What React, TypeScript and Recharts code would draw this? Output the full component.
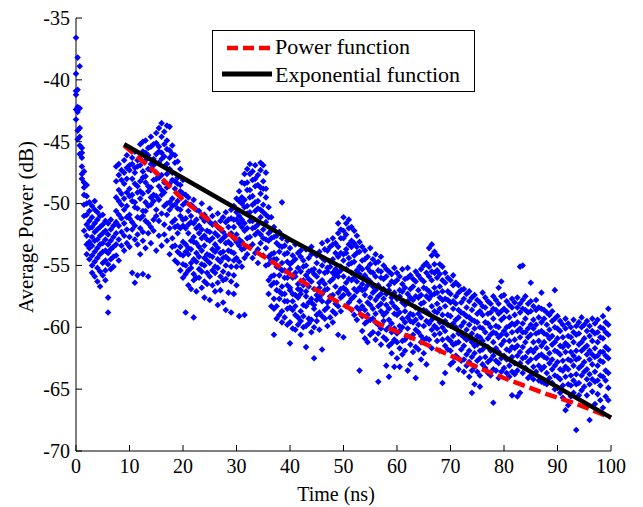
import { ComposedChart, Scatter, Line, XAxis, YAxis, Legend, Label } from 'recharts'

// measured samples: [time (ns), power values (dB) read at that time]
const samples00to10: [number, number[]][] = [
  [0.0, [-36.6, -39.5, -40.9, -41.2, -42.4, -43.2]],
  [0.3, [-38.2, -40.8, -42.2, -42.6, -44.1, -44.8]],
  [0.7, [-38.9, -42.3, -43.9, -44.6, -45.3, -46.0]],
  [1.1, [-45.5, -45.9, -46.3, -47.0, -47.6, -48.0]],
  [1.5, [-47.4, -48.3, -48.7, -49.3, -50.1, -51.0, -52.2]],
  [2.0, [-48.5, -49.4, -50.0, -50.9, -51.7, -52.6, -53.3, -54.1]],
  [2.5, [-49.9, -50.6, -51.4, -52.0, -53.1, -53.6, -54.5]],
  [3.0, [-50.2, -51.1, -51.9, -52.7, -53.4, -54.2, -55.0, -55.6]],
  [3.5, [-49.8, -50.5, -51.6, -52.3, -53.0, -53.9, -54.7, -55.9]],
  [4.0, [-50.7, -51.3, -52.1, -52.9, -53.6, -54.4, -55.2, -56.3]],
  [4.5, [-50.3, -51.0, -51.9, -52.6, -53.3, -54.1, -55.5, -56.7]],
  [5.0, [-50.9, -51.7, -52.4, -53.2, -53.9, -54.8, -55.8]],
  [5.5, [-51.4, -52.2, -52.9, -53.8, -54.6, -55.4, -56.2]],
  [6.0, [-51.6, -52.5, -53.3, -54.0, -54.9, -57.6, -58.8]],
  [6.5, [-51.3, -52.1, -53.0, -53.7, -54.5, -55.3]],
  [7.0, [-51.8, -52.7, -53.5, -54.3, -55.1]],
  [7.5, [-47.0, -48.2, -49.5, -50.6, -51.5, -52.4, -53.3, -54.2]],
  [8.0, [-46.8, -47.7, -48.9, -49.8, -50.9, -51.8, -52.9, -54.6]],
  [8.5, [-47.3, -48.1, -49.2, -50.1, -51.2, -52.3, -53.4]],
  [9.0, [-46.5, -47.5, -48.4, -49.6, -50.5, -51.6, -52.6, -53.8]],
  [9.5, [-46.1, -47.1, -48.0, -49.1, -50.2, -51.1, -52.1, -53.2]],
]

const samples10to20: [number, number[]][] = [
  [10.0, [-45.6, -46.9, -47.3, -48.8, -49.4, -50.9, -51.2, -52.7, -53.5]],
  [10.5, [-46.3, -46.8, -48.0, -49.3, -49.8, -51.5, -52.1, -55.6]],
  [11.0, [-45.8, -47.1, -47.5, -48.4, -49.9, -50.3, -51.8, -52.9, -56.4]],
  [11.5, [-46.5, -47.0, -48.6, -49.1, -50.4, -51.1, -52.5, -53.3, -55.8]],
  [12.0, [-45.2, -46.4, -46.9, -48.2, -49.0, -49.6, -51.2, -52.0, -54.1]],
  [12.5, [-45.0, -45.8, -47.4, -47.9, -49.2, -50.6, -51.0, -52.3, -53.0, -55.7]],
  [13.0, [-44.9, -45.9, -46.5, -47.8, -48.3, -49.9, -50.6, -51.4, -53.6]],
  [13.5, [-45.5, -46.1, -47.2, -48.6, -49.0, -50.2, -51.6, -52.4, -55.9]],
  [14.0, [-44.6, -45.4, -46.8, -47.3, -48.7, -49.5, -50.1, -51.9, -53.2]],
  [14.5, [-45.2, -46.4, -46.9, -48.1, -49.3, -49.8, -51.3, -52.2]],
  [15.0, [-44.3, -45.1, -46.0, -47.5, -48.0, -49.4, -50.5, -51.0, -53.8]],
  [15.5, [-43.9, -45.4, -45.8, -46.7, -47.9, -48.6, -49.7, -51.4, -52.6]],
  [16.0, [-43.5, -44.6, -45.9, -46.4, -47.7, -48.9, -49.3, -50.8, -53.4]],
  [16.5, [-44.2, -45.2, -46.2, -47.0, -48.3, -49.1, -50.2, -51.7, -52.5]],
  [17.0, [-43.7, -44.9, -45.6, -46.8, -47.6, -48.7, -50.0, -50.9, -53.0]],
  [17.5, [-43.8, -45.7, -46.3, -47.2, -48.4, -49.9, -50.5, -52.0, -54.1]],
  [18.0, [-45.3, -46.0, -47.5, -48.1, -49.6, -50.2, -51.5, -52.8, -53.5]],
  [18.5, [-46.1, -46.7, -48.2, -48.8, -50.1, -51.3, -51.9, -53.4, -54.6]],
  [19.0, [-46.6, -47.9, -48.4, -49.8, -50.4, -51.8, -52.4, -53.9, -54.8]],
  [19.5, [-47.2, -48.5, -49.0, -50.5, -51.0, -52.0, -53.5, -54.1, -55.4]],
]

const samples20to30: [number, number[]][] = [
  [20.0, [-48.1, -49.2, -50.1, -51.3, -51.8, -53.1, -54.2, -54.9, -56.0]],
  [20.5, [-49.3, -49.9, -51.2, -52.0, -53.3, -53.9, -55.0, -55.7, -58.8]],
  [21.0, [-49.5, -50.6, -51.7, -52.4, -53.6, -54.1, -55.4, -56.6]],
  [21.5, [-50.1, -51.0, -51.5, -53.0, -53.7, -54.8, -55.2, -56.9]],
  [22.0, [-49.7, -50.3, -51.6, -52.7, -53.1, -54.5, -55.7, -56.2, -59.2]],
  [22.5, [-50.5, -51.3, -52.0, -53.2, -54.0, -54.7, -56.0, -57.1]],
  [23.0, [-50.6, -51.8, -52.4, -53.5, -54.3, -55.3, -56.0]],
  [23.5, [-50.0, -51.1, -52.1, -52.8, -53.8, -54.9, -55.5, -56.8]],
  [24.0, [-50.9, -51.4, -52.6, -53.4, -54.4, -55.0, -56.3, -57.6]],
  [24.5, [-51.2, -52.2, -52.9, -54.1, -54.6, -55.6, -56.5]],
  [25.0, [-50.4, -51.5, -52.3, -53.0, -54.2, -54.8, -55.9, -57.8]],
  [25.5, [-51.0, -51.7, -52.8, -53.7, -54.3, -55.4, -56.6]],
  [26.0, [-51.6, -52.4, -53.3, -53.9, -55.1, -55.6, -57.1]],
  [26.5, [-50.8, -51.9, -52.6, -53.6, -54.5, -55.2, -56.4, -58.2]],
  [27.0, [-51.4, -52.1, -53.0, -54.0, -54.7, -55.9, -57.0]],
  [27.5, [-51.1, -52.3, -52.8, -53.9, -54.4, -55.5, -56.2, -58.0]],
  [28.0, [-50.7, -51.5, -52.6, -53.2, -54.3, -55.0, -56.1, -58.6]],
  [28.5, [-51.3, -51.9, -53.1, -53.8, -54.5, -55.7, -57.2]],
  [29.0, [-50.5, -51.2, -52.4, -53.3, -53.9, -55.1, -56.3, -58.8]],
  [29.5, [-50.2, -51.3, -51.9, -52.8, -54.0, -54.6, -55.8, -57.3]],
]

const samples30to40: [number, number[]][] = [
  [30.0, [-49.6, -50.7, -51.3, -52.5, -53.1, -54.4, -55.1, -56.6]],
  [30.5, [-49.0, -49.8, -51.0, -51.6, -52.9, -53.4, -54.7, -59.1]],
  [31.0, [-48.3, -49.5, -50.0, -51.3, -51.9, -53.1, -53.7, -55.1]],
  [31.5, [-47.6, -48.4, -49.7, -50.3, -51.6, -52.2, -53.6, -54.4, -59.0]],
  [32.0, [-47.2, -48.3, -48.9, -50.2, -50.8, -52.0, -52.8, -54.1]],
  [32.5, [-46.8, -47.6, -48.9, -49.5, -50.7, -51.4, -52.7, -53.5]],
  [33.0, [-47.4, -48.1, -49.4, -50.1, -51.4, -52.0, -53.3, -54.4]],
  [33.5, [-46.9, -48.0, -48.6, -49.9, -50.6, -51.9, -52.5, -54.0]],
  [34.0, [-47.7, -48.5, -49.8, -50.4, -51.7, -52.3, -53.7, -54.8]],
  [34.5, [-46.7, -47.3, -48.7, -49.2, -50.5, -51.1, -52.5, -53.2]],
  [35.0, [-46.9, -48.2, -48.8, -50.1, -50.7, -52.1, -52.8, -54.2]],
  [35.5, [-47.5, -48.8, -49.5, -50.9, -51.5, -52.9, -53.6, -55.0]],
  [36.0, [-50.3, -51.1, -52.4, -53.0, -54.3, -54.9, -56.2, -57.3]],
  [36.5, [-51.1, -52.2, -52.8, -54.1, -54.6, -55.9, -56.6, -58.3]],
  [37.0, [-51.9, -52.7, -54.0, -54.5, -55.8, -56.4, -57.7, -58.5, -60.6]],
  [37.5, [-52.6, -53.2, -54.5, -55.1, -56.4, -57.0, -58.3, -59.3]],
  [38.0, [-52.3, -53.4, -53.9, -55.2, -55.8, -57.1, -57.7, -59.0]],
  [38.5, [-49.9, -52.8, -53.5, -54.8, -55.4, -56.7, -57.3, -58.7, -59.6]],
  [39.0, [-53.4, -54.1, -55.4, -56.0, -57.3, -57.9, -59.2]],
  [39.5, [-53.0, -54.0, -54.7, -56.0, -56.6, -57.9, -58.5, -59.8]],
]

const samples40to50: [number, number[]][] = [
  [40.0, [-53.6, -54.9, -55.3, -56.8, -57.0, -58.4, -59.6, -61.3]],
  [40.5, [-54.2, -54.7, -56.0, -57.3, -57.9, -58.6, -60.1]],
  [41.0, [-53.3, -54.5, -55.6, -55.9, -57.4, -58.3, -59.0, -60.2]],
  [41.5, [-54.0, -55.2, -56.5, -56.9, -57.6, -59.2, -59.8]],
  [42.0, [-53.8, -54.3, -55.5, -57.0, -57.3, -58.7, -59.5, -60.6]],
  [42.5, [-54.6, -55.1, -56.2, -56.6, -58.2, -59.1, -60.0]],
  [43.0, [-53.7, -55.0, -55.8, -57.1, -57.5, -58.3, -59.9, -61.6]],
  [43.5, [-54.4, -55.5, -56.1, -56.7, -58.0, -59.3, -59.7]],
  [44.0, [-53.5, -54.1, -55.4, -56.3, -57.7, -58.0, -59.4, -60.4]],
  [44.5, [-54.0, -55.3, -55.7, -56.9, -58.2, -58.5, -60.0, -62.5]],
  [45.0, [-54.2, -54.8, -55.9, -57.4, -57.8, -59.0, -59.5]],
  [45.5, [-53.9, -55.5, -56.4, -56.8, -57.6, -58.8, -60.2]],
  [46.0, [-53.2, -54.4, -55.0, -56.2, -57.3, -57.9, -59.1, -61.8]],
  [46.5, [-53.7, -54.6, -55.6, -56.5, -57.0, -58.6, -59.3]],
  [47.0, [-53.0, -53.8, -55.2, -55.5, -56.9, -58.0, -58.4, -59.9]],
  [47.5, [-53.5, -54.7, -55.1, -56.3, -57.5, -57.8, -59.2]],
  [48.0, [-52.8, -53.3, -54.5, -55.6, -56.1, -57.4, -58.7, -59.6]],
  [48.5, [-53.2, -54.0, -55.3, -55.8, -56.7, -58.1, -58.9]],
  [49.0, [-51.6, -52.4, -53.5, -54.3, -55.6, -55.9, -57.2, -58.3, -60.6]],
  [49.5, [-52.1, -52.8, -54.0, -55.1, -55.4, -56.9, -57.6, -58.7]],
]

const samples50to60: [number, number[]][] = [
  [50.0, [-51.1, -52.2, -52.8, -54.1, -54.6, -55.9, -56.8, -57.4, -60.8]],
  [50.5, [-51.6, -52.5, -53.7, -54.0, -55.3, -56.4, -57.0, -58.3]],
  [51.0, [-51.3, -52.0, -53.3, -54.4, -54.9, -56.1, -57.3, -58.0]],
  [51.5, [-51.9, -53.0, -53.5, -54.8, -55.6, -56.2, -57.7, -58.6]],
  [52.0, [-52.2, -53.2, -54.2, -54.7, -56.0, -56.9, -57.5, -59.0]],
  [52.5, [-52.6, -53.5, -54.0, -55.4, -56.3, -57.1, -58.4, -59.4]],
  [53.0, [-53.1, -53.9, -55.1, -55.7, -56.8, -57.9, -58.6, -63.5]],
  [53.5, [-53.5, -54.6, -55.3, -56.5, -57.0, -58.3, -59.1, -60.3]],
  [54.0, [-53.8, -54.5, -55.8, -56.9, -57.4, -58.6, -59.7, -60.9]],
  [54.5, [-54.3, -55.2, -56.1, -56.6, -58.0, -59.0, -59.5, -61.2]],
  [55.0, [-53.6, -54.9, -55.5, -56.3, -57.6, -58.2, -59.4, -60.6]],
  [55.5, [-54.5, -55.6, -56.7, -57.2, -58.5, -59.3, -60.4]],
  [56.0, [-54.1, -54.8, -55.9, -57.0, -57.8, -58.9, -59.6, -61.0]],
  [56.5, [-54.7, -55.4, -56.6, -57.5, -58.3, -59.8, -60.5, -64.4]],
  [57.0, [-54.3, -55.5, -56.0, -57.3, -58.1, -58.7, -60.1, -61.4]],
  [57.5, [-55.0, -56.1, -56.9, -57.7, -59.0, -59.5, -60.8]],
  [58.0, [-55.3, -55.9, -57.3, -58.2, -58.8, -60.2, -61.0, -63.1]],
  [58.5, [-55.5, -56.6, -57.0, -58.5, -59.4, -60.0, -61.5, -64.0]],
  [59.0, [-55.7, -56.3, -57.6, -58.0, -59.7, -60.4, -61.3, -62.1]],
  [59.5, [-55.2, -56.4, -57.2, -58.3, -58.9, -60.1, -61.0, -63.2]],
]

const samples60to70: [number, number[]][] = [
  [60.0, [-55.6, -56.2, -57.7, -58.5, -59.0, -60.5, -61.2, -62.5]],
  [60.5, [-55.9, -57.0, -57.5, -58.8, -59.9, -60.3, -61.7, -63.2]],
  [61.0, [-55.3, -56.5, -57.1, -58.0, -59.3, -60.0, -61.1, -62.2]],
  [61.5, [-56.1, -56.8, -58.2, -58.7, -59.6, -61.0, -61.9]],
  [62.0, [-55.2, -56.0, -57.3, -57.9, -59.2, -60.1, -60.7, -63.5]],
  [62.5, [-55.8, -56.9, -57.6, -58.9, -59.5, -60.8, -61.4, -63.0]],
  [63.0, [-56.1, -56.7, -57.8, -59.0, -59.6, -60.6, -62.0]],
  [63.5, [-55.5, -56.3, -57.5, -58.4, -59.4, -60.2, -61.6, -64.1]],
  [64.0, [-55.8, -57.0, -57.6, -58.9, -59.8, -60.4, -61.8]],
  [64.5, [-55.3, -56.1, -57.4, -58.1, -59.2, -60.7, -61.2, -62.6]],
  [65.0, [-55.0, -56.3, -56.8, -58.0, -58.6, -59.9, -61.0, -62.1]],
  [65.5, [-54.8, -55.6, -56.9, -57.5, -58.7, -59.5, -60.9, -63.0]],
  [66.0, [-53.6, -55.1, -55.9, -57.1, -57.7, -58.9, -59.7, -61.0]],
  [66.5, [-53.3, -54.2, -55.5, -56.2, -57.4, -58.3, -59.4, -60.2, -61.7]],
  [67.0, [-53.9, -54.9, -55.6, -56.8, -57.3, -58.7, -59.9, -60.6]],
  [67.5, [-54.2, -55.4, -56.0, -57.2, -58.1, -58.8, -60.1, -61.1]],
  [68.0, [-54.9, -55.7, -56.7, -57.6, -58.5, -59.6, -60.5, -61.9]],
  [68.5, [-55.1, -56.2, -57.1, -57.8, -59.0, -60.0, -61.0, -64.5]],
  [69.0, [-55.6, -56.4, -57.7, -58.3, -59.5, -60.3, -61.5, -63.7]],
  [69.5, [-56.0, -57.1, -57.8, -59.0, -59.8, -60.9, -61.8]],
]

const samples70to80: [number, number[]][] = [
  [70.0, [-56.2, -57.3, -58.0, -59.1, -59.9, -61.1, -61.9, -63.0]],
  [70.5, [-55.8, -56.6, -57.9, -58.5, -59.7, -60.7, -61.4, -62.8]],
  [71.0, [-56.4, -57.5, -58.1, -59.4, -60.0, -61.3, -62.3]],
  [71.5, [-56.6, -57.2, -58.6, -59.2, -60.5, -61.2, -62.5, -63.4]],
  [72.0, [-57.0, -58.0, -58.8, -59.9, -60.6, -61.8, -62.7]],
  [72.5, [-56.9, -57.7, -58.9, -59.6, -60.8, -61.5, -62.6, -63.6]],
  [73.0, [-57.3, -58.4, -59.1, -60.2, -61.0, -62.2, -63.1]],
  [73.5, [-57.1, -57.9, -59.2, -59.8, -60.9, -61.9, -62.8, -64.0]],
  [74.0, [-57.6, -58.6, -59.4, -60.5, -61.2, -62.4, -63.5, -65.3]],
  [74.5, [-57.4, -58.2, -59.5, -60.1, -61.5, -62.1, -63.2, -64.6]],
  [75.0, [-57.8, -58.9, -59.6, -60.7, -61.4, -62.7, -63.6]],
  [75.5, [-58.0, -58.7, -60.0, -60.8, -61.9, -62.5, -63.9, -64.8]],
  [76.0, [-57.2, -58.3, -59.0, -60.1, -61.1, -61.8, -63.0]],
  [76.5, [-57.6, -58.4, -59.6, -60.4, -61.5, -62.4, -63.3]],
  [77.0, [-57.9, -58.9, -59.7, -60.9, -61.6, -62.8, -63.7]],
  [77.5, [-58.1, -58.8, -60.0, -60.6, -61.9, -62.6, -63.9]],
  [78.0, [-57.5, -58.5, -59.3, -60.4, -61.2, -62.3, -63.4, -66.1]],
  [78.5, [-57.8, -58.6, -59.9, -60.5, -61.7, -62.7, -63.5]],
  [79.0, [-56.8, -58.1, -58.9, -60.0, -60.8, -62.0, -62.9, -64.1]],
  [79.5, [-56.3, -57.5, -58.7, -59.4, -60.6, -61.4, -62.5, -63.6]],
]

const samples80to90: [number, number[]][] = [
  [80.0, [-57.4, -58.5, -59.2, -60.3, -61.1, -62.3, -63.3]],
  [80.5, [-57.9, -58.7, -60.0, -60.6, -61.8, -62.6, -63.7]],
  [81.0, [-58.2, -59.2, -59.9, -61.1, -61.9, -63.1, -64.0]],
  [81.5, [-57.7, -58.4, -59.7, -60.4, -61.6, -62.4, -63.6, -65.5]],
  [82.0, [-58.0, -59.0, -59.8, -61.0, -61.7, -62.9, -63.8]],
  [82.5, [-57.6, -58.4, -59.6, -60.3, -61.5, -62.3, -63.5, -65.6]],
  [83.0, [-55.1, -58.1, -58.8, -60.1, -60.8, -62.0, -62.9, -65.3]],
  [83.5, [-55.0, -57.8, -58.5, -59.7, -60.4, -61.6, -62.5, -63.7]],
  [84.0, [-57.5, -58.6, -59.3, -60.4, -61.2, -62.4, -63.3]],
  [84.5, [-58.1, -58.8, -60.1, -60.8, -62.0, -62.8, -64.1]],
  [85.0, [-56.4, -57.9, -58.7, -59.8, -60.6, -61.8, -62.6, -63.9]],
  [85.5, [-58.3, -59.4, -60.1, -61.2, -62.0, -63.2, -64.2]],
  [86.0, [-57.8, -58.6, -59.8, -60.5, -61.7, -62.5, -63.6]],
  [86.5, [-58.4, -59.2, -60.4, -61.1, -62.3, -63.1, -64.3]],
  [87.0, [-57.2, -58.5, -59.6, -60.3, -61.5, -62.2, -63.4, -64.4]],
  [87.5, [-58.6, -59.3, -60.5, -61.2, -62.4, -63.2, -64.5]],
  [88.0, [-58.8, -59.8, -60.6, -61.7, -62.5, -63.7, -64.6]],
  [88.5, [-58.2, -59.0, -60.2, -60.9, -62.1, -62.9, -64.1]],
  [89.0, [-58.7, -59.5, -60.7, -61.4, -62.6, -63.4, -64.5]],
  [89.5, [-57.0, -59.3, -60.0, -61.2, -61.9, -63.1, -63.9, -65.0]],
]

const samples90to100: [number, number[]][] = [
  [90.0, [-59.1, -60.1, -60.9, -62.0, -62.8, -64.0, -64.9]],
  [90.5, [-59.5, -60.3, -61.5, -62.2, -63.4, -64.2, -65.3]],
  [91.0, [-59.8, -60.8, -61.6, -62.7, -63.5, -64.7, -65.7]],
  [91.5, [-59.3, -60.1, -61.3, -62.0, -63.2, -64.0, -66.7]],
  [92.0, [-59.7, -60.7, -61.5, -62.6, -63.4, -64.6, -66.3]],
  [92.5, [-60.0, -60.8, -62.0, -62.7, -63.9, -64.7, -65.6]],
  [93.0, [-59.4, -60.4, -61.2, -62.3, -63.1, -64.3, -65.3]],
  [93.5, [-59.9, -60.6, -61.9, -62.6, -63.8, -64.6, -68.3]],
  [94.0, [-59.6, -60.5, -61.4, -62.5, -63.3, -64.5, -65.5]],
  [94.5, [-59.2, -60.0, -61.2, -61.9, -63.1, -63.9, -65.1]],
  [95.0, [-59.8, -60.9, -61.7, -62.8, -63.6, -64.8]],
  [95.5, [-59.5, -60.3, -61.5, -62.2, -63.4, -64.2, -65.5]],
  [96.0, [-59.9, -60.7, -61.9, -62.6, -63.8, -64.6, -67.5]],
  [96.5, [-59.3, -60.3, -61.1, -62.2, -63.0, -64.2, -65.2]],
  [97.0, [-59.7, -60.5, -61.7, -62.4, -63.6, -64.4, -66.2]],
  [97.5, [-59.4, -60.4, -61.2, -62.3, -63.1, -64.3, -65.4]],
  [98.0, [-60.0, -60.8, -62.0, -62.7, -63.9, -64.7, -65.9]],
  [98.5, [-59.1, -60.1, -60.9, -62.0, -62.8, -64.0, -66.5]],
  [99.0, [-59.6, -60.4, -61.6, -62.3, -63.5, -64.3, -65.6]],
  [99.5, [-58.5, -59.8, -60.6, -61.8, -62.5, -63.7, -64.9, -65.9]],
]

// fitted curves
const POWER_T = [9, 12, 15, 20, 25, 31, 37, 40, 45, 50, 57, 63, 69, 76, 80, 88, 93, 100]
const POWER_DB = [-45.3, -46.4, -47.5, -49.7, -51.4, -53.2, -54.8, -55.7, -57.0, -58.2, -59.8, -60.9, -62.1, -63.4, -64.1, -65.4, -66.1, -67.3]
const EXP_T = [9, 40, 70, 100]
const EXP_DB = [-45.2, -52.9, -59.9, -67.3]

const X_TICKS = [0, 10, 20, 30, 40, 50, 60, 70, 80, 90, 100]
const Y_TICKS = [-70, -65, -60, -55, -50, -45, -40, -35]

const FONT = '"Liberation Serif", "Times New Roman", serif'
const TICK_MARGIN = 6
const TICK_LEN = 6

const scatterPoints = [
  samples00to10,
  samples10to20,
  samples20to30,
  samples30to40,
  samples40to50,
  samples50to60,
  samples60to70,
  samples70to80,
  samples80to90,
  samples90to100,
]
  .flat()
  .flatMap(([x, ys]) => ys.map((y) => ({ x, y })))

const powerData = POWER_T.map((x, i) => ({ x, y: POWER_DB[i] }))
const expData = EXP_T.map((x, i) => ({ x, y: EXP_DB[i] }))

function Diamond(props: any) {
  const { cx, cy } = props
  if (cx == null || cy == null) return null
  const r = 3.3
  return <path d={`M${cx},${cy - r}L${cx + r},${cy}L${cx},${cy + r}L${cx - r},${cy}Z`} fill="#0000ff" />
}

function XTick(props: any) {
  const { x, y, payload } = props
  const axisY = y - TICK_MARGIN
  return (
    <g>
      <line x1={x} x2={x} y1={axisY} y2={axisY - TICK_LEN} stroke="#000" strokeWidth={1} />
      <text x={x} y={axisY + 22} textAnchor="middle" fontSize={20} fontFamily={FONT} fill="#000">
        {payload.value}
      </text>
    </g>
  )
}

function YTick(props: any) {
  const { x, y, payload } = props
  const axisX = x + TICK_MARGIN
  return (
    <g>
      <line x1={axisX} x2={axisX + TICK_LEN} y1={y} y2={y} stroke="#000" strokeWidth={1} />
      <text x={x} y={y} dy="0.34em" textAnchor="end" fontSize={20} fontFamily={FONT} fill="#000">
        {payload.value}
      </text>
    </g>
  )
}

function FitLegend() {
  return (
    <svg width={263} height={62} style={{ display: 'block' }}>
      <rect x={0.5} y={0.5} width={262} height={61} fill="#fff" stroke="#000" strokeWidth={1} />
      <line x1={15} x2={60} y1={18} y2={18} stroke="#ff0000" strokeWidth={4.5} strokeDasharray="11 5" />
      <text x={63} y={24} fontSize={22} fontFamily={FONT} fill="#000">
        Power function
      </text>
      <line x1={10} x2={60} y1={44} y2={44} stroke="#000" strokeWidth={5} />
      <text x={63} y={52} fontSize={22} fontFamily={FONT} fill="#000">
        Exponential function
      </text>
    </svg>
  )
}

export default function App() {
  return (
    <div style={{ position: 'absolute', left: 0, top: 0, width: 643, height: 507, background: '#fff' }}>
      <ComposedChart width={643} height={507} margin={{ top: 18, right: 32, bottom: 0, left: 0 }}>
        <XAxis
          type="number"
          dataKey="x"
          domain={[0, 100]}
          ticks={X_TICKS}
          interval={0}
          height={56}
          tickSize={0}
          tickMargin={TICK_MARGIN}
          tickLine={false}
          axisLine={{ stroke: '#000', strokeWidth: 1 }}
          tick={(p: any) => <XTick {...p} />}
        >
          <Label
            content={() => (
              <text x={336} y={501} textAnchor="middle" fontSize={20} fontFamily={FONT} fill="#000">
                Time (ns)
              </text>
            )}
          />
        </XAxis>
        <YAxis
          type="number"
          dataKey="y"
          domain={[-70, -35]}
          ticks={Y_TICKS}
          interval={0}
          width={76}
          tickSize={0}
          tickMargin={TICK_MARGIN}
          tickLine={false}
          axisLine={{ stroke: '#000', strokeWidth: 1 }}
          tick={(p: any) => <YTick {...p} />}
        >
          <Label
            content={() => (
              <text
                transform="translate(33, 227) rotate(-90)"
                textAnchor="middle"
                fontSize={21}
                fontFamily={FONT}
                fill="#000"
              >
                Average Power (dB)
              </text>
            )}
          />
        </YAxis>
        <Scatter data={scatterPoints} fill="#0000ff" shape={Diamond} isAnimationActive={false} />
        <Line
          data={powerData}
          dataKey="y"
          type="linear"
          stroke="#ff0000"
          strokeWidth={4.5}
          strokeDasharray="12 5"
          dot={false}
          activeDot={false}
          zIndex={700}
          isAnimationActive={false}
        />
        <Line
          data={expData}
          dataKey="y"
          type="linear"
          stroke="#000"
          strokeWidth={4.5}
          dot={false}
          activeDot={false}
          zIndex={710}
          isAnimationActive={false}
        />
        <Legend
          layout="vertical"
          align="center"
          verticalAlign="middle"
          wrapperStyle={{ left: 212, top: 30, width: 263, height: 62 }}
          content={() => <FitLegend />}
        />
      </ComposedChart>
    </div>
  )
}
